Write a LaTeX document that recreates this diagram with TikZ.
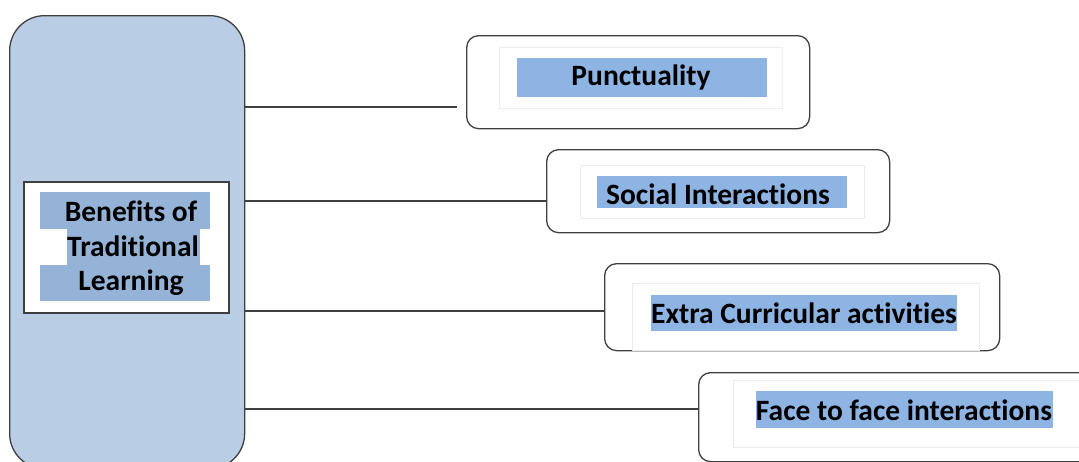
\documentclass[tikz,border=0pt]{standalone}
\usepackage{fontspec}
\setmainfont{Carlito}[RawFeature={-liga;-clig}]
\definecolor{bigfill}{HTML}{B9CDE4}
\definecolor{hl}{HTML}{8EB4E3}
\definecolor{hlb}{HTML}{95B3D7}
\definecolor{edge}{HTML}{3F3F3F}
\definecolor{faint}{HTML}{ECECEC}
\tikzset{
  bigbox/.style={draw=edge, line width=1.3pt, fill=bigfill, rounded corners=35pt, anchor=north west, inner sep=0pt},
  itembox/.style={draw=edge, line width=1.3pt, fill=white, rounded corners=12pt, anchor=north west, inner sep=0pt},
  innerbox/.style={draw=faint, line width=1pt, anchor=north west, inner sep=0pt},
  hlbox/.style={fill=#1, anchor=north west, inner sep=0pt},
  lbl/.style={font=\bfseries\fontsize{29.5}{34}\selectfont, inner sep=0pt, text=black},
  conn/.style={draw=edge, line width=1.2pt}
}
\begin{document}
\begin{tikzpicture}[x=1pt,y=-1pt]
\useasboundingbox (0,0) rectangle (1079,461);
\path[clip] (0,0) rectangle (1079,461);
% left big box
\node[bigbox, minimum width=235pt, minimum height=453pt] (big) at (9,15) {};
\node[draw=edge, line width=1.5pt, fill=white, anchor=north west, inner sep=0pt, minimum width=205pt, minimum height=131pt] (inner) at (23,181) {};
\node[hlbox=hlb, minimum width=170pt, minimum height=37pt] (h1) at (40,192) {};
\node[hlbox=hlb, minimum width=133pt, minimum height=36pt] (h2) at (67,229) {};
\node[hlbox=hlb, minimum width=170pt, minimum height=36pt] (h3) at (40,265) {};
\node[lbl] (l1) at (131,211) {Benefits of};
\node[lbl] (l2) at (133,246) {Traditional};
\node[lbl] (l3) at (131,283) {Learning};
% item boxes
\node[itembox, minimum width=343pt, minimum height=93pt] (b1) at (466,35) {};
\node[innerbox, minimum width=283pt, minimum height=61pt] (i1) at (499,47) {};
\node[hlbox=hl, minimum width=250pt, minimum height=39pt] (g1) at (517,58) {};
\node[lbl] (t1) at (641,77) {Punctuality};

\node[itembox, minimum width=343pt, minimum height=83pt] (b2) at (546,149) {};
\node[innerbox, minimum width=284pt, minimum height=53pt] (i2) at (580,165) {};
\node[hlbox=hl, minimum width=250pt, minimum height=32pt] (g2) at (597,176) {};
\node[lbl] (t2) at (718,194) {Social Interactions};

\node[itembox, minimum width=395pt, minimum height=87pt] (b3) at (604,263) {};
\node[innerbox, minimum width=347pt, minimum height=67pt] (i3) at (632,283) {};
\node[hlbox=hl, minimum width=306pt, minimum height=36pt] (g3) at (651,295) {};
\node[lbl] (t3) at (804,313) {Extra Curricular activities};

\node[itembox, minimum width=420pt, minimum height=89pt] (b4) at (698,372) {};
\node[innerbox, minimum width=380pt, minimum height=67pt] (i4) at (733,380) {};
\node[hlbox=hl, minimum width=297pt, minimum height=37pt] (g4) at (756,391) {};
\node[lbl] (t4) at (904,410) {Face to face interactions};
% connectors
\coordinate (e1) at (457,107);
\coordinate (y2) at (0,201);
\coordinate (y3) at (0,311);
\coordinate (y4) at (0,409);
\draw[conn] (big.east |- e1) -- (e1);
\draw[conn] (big.east |- y2) -- (b2.west |- y2);
\draw[conn] (big.east |- y3) -- (b3.west |- y3);
\draw[conn] (big.east |- y4) -- (b4.west |- y4);
\end{tikzpicture}
\end{document}
